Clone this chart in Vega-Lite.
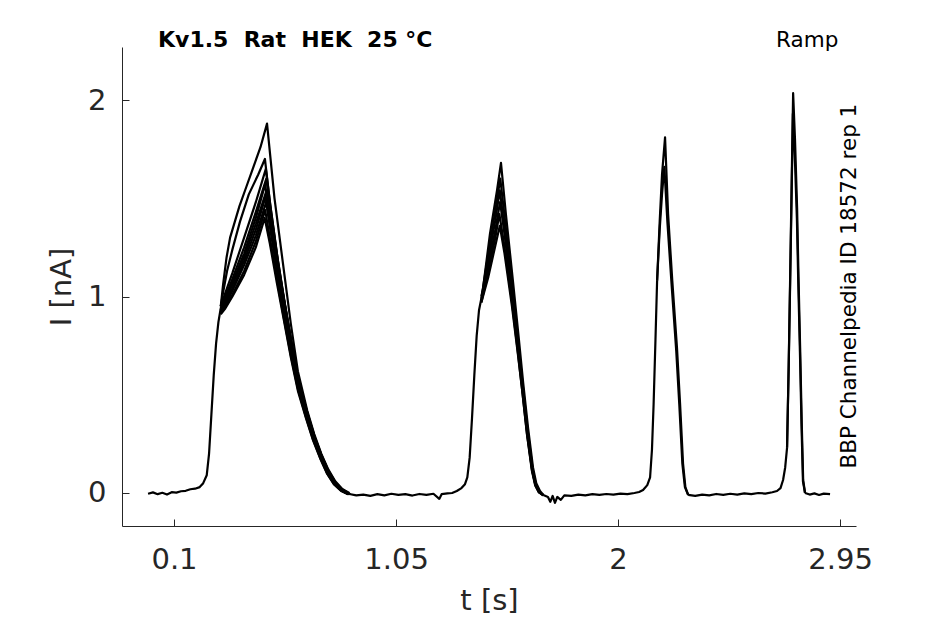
{
  "$schema": "https://vega.github.io/schema/vega-lite/v6.json",
  "width": 734,
  "height": 479,
  "autosize": "none",
  "padding": {"left": 122, "top": 47, "right": 89, "bottom": 98},
  "background": "white",
  "datasets": {
    "traces": [
      {"s": "b0", "t": -0.011, "i": -0.004}, {"s": "b0", "t": 0.01, "i": 0.003}, {"s": "b0", "t": 0.03, "i": -0.006},
      {"s": "b0", "t": 0.05, "i": 0.001}, {"s": "b0", "t": 0.07, "i": -0.008}, {"s": "b0", "t": 0.09, "i": 0.004},
      {"s": "b0", "t": 0.11, "i": 0.002}, {"s": "b0", "t": 0.13, "i": 0.009}, {"s": "b0", "t": 0.15, "i": 0.011},
      {"s": "b0", "t": 0.17, "i": 0.019}, {"s": "b0", "t": 0.19, "i": 0.022}, {"s": "b0", "t": 0.21, "i": 0.03},
      {"s": "b0", "t": 0.225, "i": 0.05}, {"s": "b0", "t": 0.24, "i": 0.09}, {"s": "b0", "t": 0.25, "i": 0.2},
      {"s": "b0", "t": 0.26, "i": 0.4}, {"s": "b0", "t": 0.27, "i": 0.6}, {"s": "b0", "t": 0.28, "i": 0.76},
      {"s": "b0", "t": 0.29, "i": 0.87}, {"s": "b0", "t": 0.30, "i": 0.94},

      {"s": "p1a", "t": 0.30, "i": 0.95}, {"s": "p1a", "t": 0.31, "i": 1.06}, {"s": "p1a", "t": 0.325, "i": 1.2},
      {"s": "p1a", "t": 0.34, "i": 1.3}, {"s": "p1a", "t": 0.36, "i": 1.38}, {"s": "p1a", "t": 0.38, "i": 1.46},
      {"s": "p1a", "t": 0.41, "i": 1.56}, {"s": "p1a", "t": 0.44, "i": 1.66}, {"s": "p1a", "t": 0.47, "i": 1.76},
      {"s": "p1a", "t": 0.498, "i": 1.88}, {"s": "p1a", "t": 0.53, "i": 1.5}, {"s": "p1a", "t": 0.566, "i": 1.17},
      {"s": "p1a", "t": 0.60, "i": 0.86}, {"s": "p1a", "t": 0.63, "i": 0.62}, {"s": "p1a", "t": 0.67, "i": 0.42},
      {"s": "p1a", "t": 0.70, "i": 0.3}, {"s": "p1a", "t": 0.73, "i": 0.2}, {"s": "p1a", "t": 0.76, "i": 0.12},
      {"s": "p1a", "t": 0.79, "i": 0.06}, {"s": "p1a", "t": 0.82, "i": 0.02}, {"s": "p1a", "t": 0.85, "i": 0.0},

      {"s": "p1b", "t": 0.30, "i": 0.95}, {"s": "p1b", "t": 0.31, "i": 1.02}, {"s": "p1b", "t": 0.327, "i": 1.13},
      {"s": "p1b", "t": 0.35, "i": 1.24}, {"s": "p1b", "t": 0.382, "i": 1.38}, {"s": "p1b", "t": 0.42, "i": 1.52},
      {"s": "p1b", "t": 0.46, "i": 1.62}, {"s": "p1b", "t": 0.489, "i": 1.7}, {"s": "p1b", "t": 0.51, "i": 1.48},
      {"s": "p1b", "t": 0.54, "i": 1.22}, {"s": "p1b", "t": 0.57, "i": 0.99}, {"s": "p1b", "t": 0.60, "i": 0.78},
      {"s": "p1b", "t": 0.63, "i": 0.58}, {"s": "p1b", "t": 0.67, "i": 0.41}, {"s": "p1b", "t": 0.70, "i": 0.29},
      {"s": "p1b", "t": 0.73, "i": 0.195}, {"s": "p1b", "t": 0.76, "i": 0.115}, {"s": "p1b", "t": 0.79, "i": 0.055},
      {"s": "p1b", "t": 0.82, "i": 0.018}, {"s": "p1b", "t": 0.85, "i": -0.003},

      {"s": "p1c", "t": 0.30, "i": 0.95}, {"s": "p1c", "t": 0.32, "i": 1.02}, {"s": "p1c", "t": 0.35, "i": 1.12},
      {"s": "p1c", "t": 0.40, "i": 1.3}, {"s": "p1c", "t": 0.45, "i": 1.48}, {"s": "p1c", "t": 0.493, "i": 1.65},
      {"s": "p1c", "t": 0.515, "i": 1.44}, {"s": "p1c", "t": 0.545, "i": 1.18}, {"s": "p1c", "t": 0.575, "i": 0.96},
      {"s": "p1c", "t": 0.605, "i": 0.75}, {"s": "p1c", "t": 0.635, "i": 0.56}, {"s": "p1c", "t": 0.67, "i": 0.4},
      {"s": "p1c", "t": 0.70, "i": 0.285}, {"s": "p1c", "t": 0.73, "i": 0.19}, {"s": "p1c", "t": 0.76, "i": 0.11},
      {"s": "p1c", "t": 0.79, "i": 0.05}, {"s": "p1c", "t": 0.82, "i": 0.015}, {"s": "p1c", "t": 0.85, "i": -0.005},

      {"s": "p1d", "t": 0.30, "i": 0.94}, {"s": "p1d", "t": 0.32, "i": 1.0}, {"s": "p1d", "t": 0.35, "i": 1.09},
      {"s": "p1d", "t": 0.40, "i": 1.25}, {"s": "p1d", "t": 0.45, "i": 1.43}, {"s": "p1d", "t": 0.495, "i": 1.6},
      {"s": "p1d", "t": 0.515, "i": 1.42}, {"s": "p1d", "t": 0.545, "i": 1.17}, {"s": "p1d", "t": 0.575, "i": 0.95},
      {"s": "p1d", "t": 0.605, "i": 0.745}, {"s": "p1d", "t": 0.635, "i": 0.555}, {"s": "p1d", "t": 0.67, "i": 0.395},
      {"s": "p1d", "t": 0.70, "i": 0.28}, {"s": "p1d", "t": 0.73, "i": 0.185}, {"s": "p1d", "t": 0.76, "i": 0.105},
      {"s": "p1d", "t": 0.79, "i": 0.048}, {"s": "p1d", "t": 0.82, "i": 0.013}, {"s": "p1d", "t": 0.85, "i": -0.006},

      {"s": "p1e", "t": 0.30, "i": 0.94}, {"s": "p1e", "t": 0.32, "i": 0.99}, {"s": "p1e", "t": 0.35, "i": 1.07},
      {"s": "p1e", "t": 0.40, "i": 1.22}, {"s": "p1e", "t": 0.45, "i": 1.4}, {"s": "p1e", "t": 0.49, "i": 1.57},
      {"s": "p1e", "t": 0.51, "i": 1.4}, {"s": "p1e", "t": 0.54, "i": 1.16}, {"s": "p1e", "t": 0.57, "i": 0.94},
      {"s": "p1e", "t": 0.60, "i": 0.74}, {"s": "p1e", "t": 0.63, "i": 0.55}, {"s": "p1e", "t": 0.665, "i": 0.4},
      {"s": "p1e", "t": 0.695, "i": 0.285}, {"s": "p1e", "t": 0.725, "i": 0.19}, {"s": "p1e", "t": 0.755, "i": 0.11},
      {"s": "p1e", "t": 0.785, "i": 0.05}, {"s": "p1e", "t": 0.815, "i": 0.015}, {"s": "p1e", "t": 0.845, "i": -0.005},

      {"s": "p1f", "t": 0.30, "i": 0.93}, {"s": "p1f", "t": 0.32, "i": 0.98}, {"s": "p1f", "t": 0.35, "i": 1.06},
      {"s": "p1f", "t": 0.40, "i": 1.2}, {"s": "p1f", "t": 0.45, "i": 1.37}, {"s": "p1f", "t": 0.496, "i": 1.54},
      {"s": "p1f", "t": 0.52, "i": 1.34}, {"s": "p1f", "t": 0.55, "i": 1.12}, {"s": "p1f", "t": 0.58, "i": 0.92},
      {"s": "p1f", "t": 0.61, "i": 0.72}, {"s": "p1f", "t": 0.64, "i": 0.54}, {"s": "p1f", "t": 0.675, "i": 0.39},
      {"s": "p1f", "t": 0.705, "i": 0.275}, {"s": "p1f", "t": 0.735, "i": 0.18}, {"s": "p1f", "t": 0.765, "i": 0.1},
      {"s": "p1f", "t": 0.795, "i": 0.045}, {"s": "p1f", "t": 0.825, "i": 0.012}, {"s": "p1f", "t": 0.855, "i": -0.006},

      {"s": "p1g", "t": 0.30, "i": 0.93}, {"s": "p1g", "t": 0.32, "i": 0.97}, {"s": "p1g", "t": 0.35, "i": 1.04},
      {"s": "p1g", "t": 0.40, "i": 1.18}, {"s": "p1g", "t": 0.45, "i": 1.34}, {"s": "p1g", "t": 0.492, "i": 1.51},
      {"s": "p1g", "t": 0.515, "i": 1.33}, {"s": "p1g", "t": 0.545, "i": 1.11}, {"s": "p1g", "t": 0.575, "i": 0.91},
      {"s": "p1g", "t": 0.605, "i": 0.71}, {"s": "p1g", "t": 0.635, "i": 0.535}, {"s": "p1g", "t": 0.67, "i": 0.385},
      {"s": "p1g", "t": 0.70, "i": 0.27}, {"s": "p1g", "t": 0.73, "i": 0.18}, {"s": "p1g", "t": 0.76, "i": 0.1},
      {"s": "p1g", "t": 0.79, "i": 0.045}, {"s": "p1g", "t": 0.82, "i": 0.012}, {"s": "p1g", "t": 0.85, "i": -0.005},

      {"s": "p1h", "t": 0.30, "i": 0.92}, {"s": "p1h", "t": 0.32, "i": 0.96}, {"s": "p1h", "t": 0.35, "i": 1.03},
      {"s": "p1h", "t": 0.40, "i": 1.16}, {"s": "p1h", "t": 0.45, "i": 1.31}, {"s": "p1h", "t": 0.494, "i": 1.48},
      {"s": "p1h", "t": 0.515, "i": 1.32}, {"s": "p1h", "t": 0.545, "i": 1.1}, {"s": "p1h", "t": 0.575, "i": 0.9},
      {"s": "p1h", "t": 0.605, "i": 0.7}, {"s": "p1h", "t": 0.635, "i": 0.525}, {"s": "p1h", "t": 0.67, "i": 0.38},
      {"s": "p1h", "t": 0.70, "i": 0.268}, {"s": "p1h", "t": 0.73, "i": 0.178}, {"s": "p1h", "t": 0.76, "i": 0.098},
      {"s": "p1h", "t": 0.79, "i": 0.043}, {"s": "p1h", "t": 0.82, "i": 0.01}, {"s": "p1h", "t": 0.85, "i": -0.006},

      {"s": "p1i", "t": 0.30, "i": 0.92}, {"s": "p1i", "t": 0.32, "i": 0.95}, {"s": "p1i", "t": 0.35, "i": 1.01},
      {"s": "p1i", "t": 0.40, "i": 1.13}, {"s": "p1i", "t": 0.45, "i": 1.28}, {"s": "p1i", "t": 0.49, "i": 1.44},
      {"s": "p1i", "t": 0.51, "i": 1.3}, {"s": "p1i", "t": 0.54, "i": 1.09}, {"s": "p1i", "t": 0.57, "i": 0.89},
      {"s": "p1i", "t": 0.60, "i": 0.7}, {"s": "p1i", "t": 0.63, "i": 0.53}, {"s": "p1i", "t": 0.665, "i": 0.385},
      {"s": "p1i", "t": 0.695, "i": 0.272}, {"s": "p1i", "t": 0.725, "i": 0.18}, {"s": "p1i", "t": 0.755, "i": 0.1},
      {"s": "p1i", "t": 0.785, "i": 0.045}, {"s": "p1i", "t": 0.815, "i": 0.012}, {"s": "p1i", "t": 0.845, "i": -0.006},

      {"s": "p1j", "t": 0.30, "i": 0.91}, {"s": "p1j", "t": 0.32, "i": 0.94}, {"s": "p1j", "t": 0.35, "i": 1.0},
      {"s": "p1j", "t": 0.40, "i": 1.11}, {"s": "p1j", "t": 0.45, "i": 1.25}, {"s": "p1j", "t": 0.488, "i": 1.4},
      {"s": "p1j", "t": 0.51, "i": 1.27}, {"s": "p1j", "t": 0.54, "i": 1.07}, {"s": "p1j", "t": 0.57, "i": 0.88},
      {"s": "p1j", "t": 0.60, "i": 0.69}, {"s": "p1j", "t": 0.63, "i": 0.52}, {"s": "p1j", "t": 0.665, "i": 0.38},
      {"s": "p1j", "t": 0.695, "i": 0.268}, {"s": "p1j", "t": 0.725, "i": 0.177}, {"s": "p1j", "t": 0.755, "i": 0.098},
      {"s": "p1j", "t": 0.785, "i": 0.043}, {"s": "p1j", "t": 0.815, "i": 0.01}, {"s": "p1j", "t": 0.845, "i": -0.006},

      {"s": "b1", "t": 0.85, "i": -0.005}, {"s": "b1", "t": 0.88, "i": -0.012}, {"s": "b1", "t": 0.91, "i": -0.008},
      {"s": "b1", "t": 0.94, "i": -0.015}, {"s": "b1", "t": 0.97, "i": -0.006}, {"s": "b1", "t": 1.0, "i": -0.012},
      {"s": "b1", "t": 1.03, "i": -0.004}, {"s": "b1", "t": 1.06, "i": -0.01}, {"s": "b1", "t": 1.09, "i": -0.006},
      {"s": "b1", "t": 1.12, "i": -0.013}, {"s": "b1", "t": 1.15, "i": -0.005}, {"s": "b1", "t": 1.18, "i": -0.01},
      {"s": "b1", "t": 1.21, "i": -0.004}, {"s": "b1", "t": 1.235, "i": -0.03}, {"s": "b1", "t": 1.245, "i": -0.006},
      {"s": "b1", "t": 1.27, "i": -0.002}, {"s": "b1", "t": 1.29, "i": 0.0}, {"s": "b1", "t": 1.31, "i": 0.01},
      {"s": "b1", "t": 1.33, "i": 0.025}, {"s": "b1", "t": 1.345, "i": 0.045}, {"s": "b1", "t": 1.355, "i": 0.08},
      {"s": "b1", "t": 1.365, "i": 0.18}, {"s": "b1", "t": 1.375, "i": 0.38}, {"s": "b1", "t": 1.385, "i": 0.6},
      {"s": "b1", "t": 1.395, "i": 0.8}, {"s": "b1", "t": 1.405, "i": 0.93}, {"s": "b1", "t": 1.415, "i": 0.99},

      {"s": "p2a", "t": 1.415, "i": 1.0}, {"s": "p2a", "t": 1.422, "i": 1.04}, {"s": "p2a", "t": 1.452, "i": 1.32},
      {"s": "p2a", "t": 1.482, "i": 1.54}, {"s": "p2a", "t": 1.499, "i": 1.68}, {"s": "p2a", "t": 1.52, "i": 1.42},
      {"s": "p2a", "t": 1.551, "i": 1.07}, {"s": "p2a", "t": 1.575, "i": 0.79}, {"s": "p2a", "t": 1.594, "i": 0.56},
      {"s": "p2a", "t": 1.615, "i": 0.33}, {"s": "p2a", "t": 1.636, "i": 0.13}, {"s": "p2a", "t": 1.65, "i": 0.05},
      {"s": "p2a", "t": 1.666, "i": 0.01}, {"s": "p2a", "t": 1.68, "i": -0.01},

      {"s": "p2b", "t": 1.415, "i": 0.99}, {"s": "p2b", "t": 1.445, "i": 1.22}, {"s": "p2b", "t": 1.475, "i": 1.44},
      {"s": "p2b", "t": 1.496, "i": 1.6}, {"s": "p2b", "t": 1.515, "i": 1.4}, {"s": "p2b", "t": 1.548, "i": 1.04},
      {"s": "p2b", "t": 1.572, "i": 0.77}, {"s": "p2b", "t": 1.592, "i": 0.55}, {"s": "p2b", "t": 1.613, "i": 0.32},
      {"s": "p2b", "t": 1.634, "i": 0.125}, {"s": "p2b", "t": 1.648, "i": 0.045}, {"s": "p2b", "t": 1.664, "i": 0.005},
      {"s": "p2b", "t": 1.68, "i": -0.012},

      {"s": "p2c", "t": 1.415, "i": 0.98}, {"s": "p2c", "t": 1.445, "i": 1.19}, {"s": "p2c", "t": 1.475, "i": 1.39},
      {"s": "p2c", "t": 1.494, "i": 1.54}, {"s": "p2c", "t": 1.513, "i": 1.36}, {"s": "p2c", "t": 1.546, "i": 1.02},
      {"s": "p2c", "t": 1.57, "i": 0.76}, {"s": "p2c", "t": 1.59, "i": 0.54}, {"s": "p2c", "t": 1.611, "i": 0.31},
      {"s": "p2c", "t": 1.632, "i": 0.12}, {"s": "p2c", "t": 1.646, "i": 0.045}, {"s": "p2c", "t": 1.662, "i": 0.005},
      {"s": "p2c", "t": 1.68, "i": -0.01},

      {"s": "p2d", "t": 1.415, "i": 0.98}, {"s": "p2d", "t": 1.445, "i": 1.16}, {"s": "p2d", "t": 1.475, "i": 1.34},
      {"s": "p2d", "t": 1.495, "i": 1.48}, {"s": "p2d", "t": 1.515, "i": 1.31}, {"s": "p2d", "t": 1.547, "i": 1.0},
      {"s": "p2d", "t": 1.571, "i": 0.75}, {"s": "p2d", "t": 1.591, "i": 0.535}, {"s": "p2d", "t": 1.612, "i": 0.31},
      {"s": "p2d", "t": 1.633, "i": 0.12}, {"s": "p2d", "t": 1.647, "i": 0.045}, {"s": "p2d", "t": 1.663, "i": 0.005},
      {"s": "p2d", "t": 1.68, "i": -0.012},

      {"s": "p2e", "t": 1.415, "i": 0.97}, {"s": "p2e", "t": 1.445, "i": 1.13}, {"s": "p2e", "t": 1.475, "i": 1.3},
      {"s": "p2e", "t": 1.492, "i": 1.42}, {"s": "p2e", "t": 1.512, "i": 1.27}, {"s": "p2e", "t": 1.545, "i": 0.98},
      {"s": "p2e", "t": 1.569, "i": 0.74}, {"s": "p2e", "t": 1.589, "i": 0.53}, {"s": "p2e", "t": 1.61, "i": 0.3},
      {"s": "p2e", "t": 1.631, "i": 0.115}, {"s": "p2e", "t": 1.645, "i": 0.04}, {"s": "p2e", "t": 1.661, "i": 0.003},
      {"s": "p2e", "t": 1.68, "i": -0.01},

      {"s": "p2f", "t": 1.415, "i": 0.97}, {"s": "p2f", "t": 1.445, "i": 1.1}, {"s": "p2f", "t": 1.475, "i": 1.26},
      {"s": "p2f", "t": 1.494, "i": 1.36}, {"s": "p2f", "t": 1.514, "i": 1.22}, {"s": "p2f", "t": 1.546, "i": 0.95},
      {"s": "p2f", "t": 1.57, "i": 0.72}, {"s": "p2f", "t": 1.59, "i": 0.52}, {"s": "p2f", "t": 1.611, "i": 0.295},
      {"s": "p2f", "t": 1.632, "i": 0.115}, {"s": "p2f", "t": 1.646, "i": 0.04}, {"s": "p2f", "t": 1.662, "i": 0.003},
      {"s": "p2f", "t": 1.68, "i": -0.012},

      {"s": "b2", "t": 1.68, "i": -0.01}, {"s": "b2", "t": 1.70, "i": -0.02}, {"s": "b2", "t": 1.71, "i": -0.045},
      {"s": "b2", "t": 1.72, "i": -0.015}, {"s": "b2", "t": 1.73, "i": -0.05}, {"s": "b2", "t": 1.74, "i": -0.02},
      {"s": "b2", "t": 1.755, "i": -0.035}, {"s": "b2", "t": 1.77, "i": -0.012}, {"s": "b2", "t": 1.80, "i": -0.015},
      {"s": "b2", "t": 1.83, "i": -0.008}, {"s": "b2", "t": 1.86, "i": -0.012}, {"s": "b2", "t": 1.89, "i": -0.006},
      {"s": "b2", "t": 1.92, "i": -0.01}, {"s": "b2", "t": 1.95, "i": -0.005}, {"s": "b2", "t": 1.98, "i": -0.008},
      {"s": "b2", "t": 2.01, "i": -0.003}, {"s": "b2", "t": 2.04, "i": -0.006}, {"s": "b2", "t": 2.07, "i": 0.0},
      {"s": "b2", "t": 2.09, "i": 0.005}, {"s": "b2", "t": 2.107, "i": 0.015}, {"s": "b2", "t": 2.125, "i": 0.04},
      {"s": "b2", "t": 2.137, "i": 0.08}, {"s": "b2", "t": 2.145, "i": 0.22}, {"s": "b2", "t": 2.152, "i": 0.45},
      {"s": "b2", "t": 2.16, "i": 0.78}, {"s": "b2", "t": 2.167, "i": 1.08},

      {"s": "p3a", "t": 2.167, "i": 1.08}, {"s": "p3a", "t": 2.178, "i": 1.38}, {"s": "p3a", "t": 2.188, "i": 1.62},
      {"s": "p3a", "t": 2.201, "i": 1.81}, {"s": "p3a", "t": 2.214, "i": 1.42}, {"s": "p3a", "t": 2.232, "i": 1.08},
      {"s": "p3a", "t": 2.252, "i": 0.74}, {"s": "p3a", "t": 2.265, "i": 0.46}, {"s": "p3a", "t": 2.278, "i": 0.15},
      {"s": "p3a", "t": 2.288, "i": 0.03}, {"s": "p3a", "t": 2.30, "i": -0.01},

      {"s": "p3b", "t": 2.167, "i": 1.08}, {"s": "p3b", "t": 2.178, "i": 1.34}, {"s": "p3b", "t": 2.188, "i": 1.52},
      {"s": "p3b", "t": 2.198, "i": 1.66}, {"s": "p3b", "t": 2.211, "i": 1.38}, {"s": "p3b", "t": 2.229, "i": 1.06},
      {"s": "p3b", "t": 2.249, "i": 0.72}, {"s": "p3b", "t": 2.262, "i": 0.45}, {"s": "p3b", "t": 2.275, "i": 0.15},
      {"s": "p3b", "t": 2.286, "i": 0.03}, {"s": "p3b", "t": 2.30, "i": -0.01},

      {"s": "b3", "t": 2.30, "i": -0.01}, {"s": "b3", "t": 2.33, "i": -0.015}, {"s": "b3", "t": 2.36, "i": -0.008},
      {"s": "b3", "t": 2.39, "i": -0.012}, {"s": "b3", "t": 2.42, "i": -0.005}, {"s": "b3", "t": 2.45, "i": -0.01},
      {"s": "b3", "t": 2.48, "i": -0.004}, {"s": "b3", "t": 2.51, "i": -0.008}, {"s": "b3", "t": 2.54, "i": -0.002},
      {"s": "b3", "t": 2.57, "i": -0.006}, {"s": "b3", "t": 2.60, "i": 0.0}, {"s": "b3", "t": 2.63, "i": -0.003},
      {"s": "b3", "t": 2.66, "i": 0.004}, {"s": "b3", "t": 2.68, "i": 0.01}, {"s": "b3", "t": 2.695, "i": 0.025},
      {"s": "b3", "t": 2.706, "i": 0.066}, {"s": "b3", "t": 2.715, "i": 0.13}, {"s": "b3", "t": 2.723, "i": 0.23},

      {"s": "p4a", "t": 2.723, "i": 0.23}, {"s": "p4a", "t": 2.73, "i": 0.65}, {"s": "p4a", "t": 2.736, "i": 1.08},
      {"s": "p4a", "t": 2.743, "i": 1.6}, {"s": "p4a", "t": 2.749, "i": 2.035}, {"s": "p4a", "t": 2.757, "i": 1.8},
      {"s": "p4a", "t": 2.766, "i": 1.45}, {"s": "p4a", "t": 2.772, "i": 1.1}, {"s": "p4a", "t": 2.779, "i": 0.74},
      {"s": "p4a", "t": 2.786, "i": 0.35}, {"s": "p4a", "t": 2.792, "i": 0.066}, {"s": "p4a", "t": 2.80, "i": 0.0},

      {"s": "p4b", "t": 2.723, "i": 0.23}, {"s": "p4b", "t": 2.73, "i": 0.64}, {"s": "p4b", "t": 2.736, "i": 1.05},
      {"s": "p4b", "t": 2.743, "i": 1.55}, {"s": "p4b", "t": 2.748, "i": 1.93}, {"s": "p4b", "t": 2.756, "i": 1.72},
      {"s": "p4b", "t": 2.765, "i": 1.4}, {"s": "p4b", "t": 2.771, "i": 1.07}, {"s": "p4b", "t": 2.778, "i": 0.72},
      {"s": "p4b", "t": 2.785, "i": 0.34}, {"s": "p4b", "t": 2.791, "i": 0.06}, {"s": "p4b", "t": 2.80, "i": 0.0},

      {"s": "b4", "t": 2.80, "i": 0.0}, {"s": "b4", "t": 2.82, "i": -0.008}, {"s": "b4", "t": 2.84, "i": -0.002},
      {"s": "b4", "t": 2.86, "i": -0.01}, {"s": "b4", "t": 2.88, "i": -0.003}, {"s": "b4", "t": 2.907, "i": -0.006}
    ]
  },
  "layer": [
    {
      "data": {"name": "traces"},
      "mark": {"type": "line", "color": "black", "strokeWidth": 2.2, "strokeJoin": "round", "clip": true},
      "encoding": {
        "x": {
          "field": "t", "type": "quantitative", "title": "t [s]",
          "scale": {"domain": [-0.1225, 3.018], "nice": false, "zero": false},
          "axis": {"values": [0.1, 1.05, 2, 2.95], "labelExpr": "'' + datum.value", "labelPadding": 26, "titlePadding": 12}
        },
        "y": {
          "field": "i", "type": "quantitative", "title": "I [nA]",
          "scale": {"domain": [-0.168, 2.27], "nice": false, "zero": false},
          "axis": {"values": [0, 1, 2], "labelExpr": "'' + datum.value", "labelPadding": 23, "titlePadding": 11}
        },
        "detail": {"field": "s"}
      }
    },
    {
      "data": {"values": [{"label": "Kv1.5\u00a0\u00a0Rat\u00a0\u00a0HEK\u00a0\u00a025 °C"}]},
      "mark": {"type": "text", "font": "DejaVu Sans", "fontSize": 22, "fontWeight": "bold", "align": "left", "baseline": "alphabetic", "color": "black"},
      "encoding": {
        "x": {"datum": 0.0315, "type": "quantitative"},
        "y": {"datum": 2.27, "type": "quantitative"},
        "text": {"field": "label"}
      }
    },
    {
      "data": {"values": [{"label": "Ramp"}]},
      "mark": {"type": "text", "font": "DejaVu Sans", "fontSize": 21.5, "align": "center", "baseline": "alphabetic", "color": "black"},
      "encoding": {
        "x": {"datum": 2.809, "type": "quantitative"},
        "y": {"datum": 2.27, "type": "quantitative"},
        "text": {"field": "label"}
      }
    },
    {
      "data": {"values": [{"label": "BBP Channelpedia ID 18572 rep 1"}]},
      "mark": {"type": "text", "font": "DejaVu Sans", "fontSize": 21.5, "align": "center", "baseline": "middle", "angle": 270, "color": "black"},
      "encoding": {
        "x": {"datum": 2.993, "type": "quantitative"},
        "y": {"datum": 1.053, "type": "quantitative"},
        "text": {"field": "label"}
      }
    }
  ],
  "config": {
    "font": "DejaVu Sans",
    "view": {"stroke": null},
    "axis": {
      "grid": false,
      "domainColor": "#262626",
      "tickColor": "#262626",
      "labelColor": "#262626",
      "titleColor": "#262626",
      "labelFont": "DejaVu Sans",
      "titleFont": "DejaVu Sans",
      "labelFontSize": 29,
      "titleFontSize": 29,
      "titleFontWeight": "normal",
      "tickSize": -7
    }
  }
}
